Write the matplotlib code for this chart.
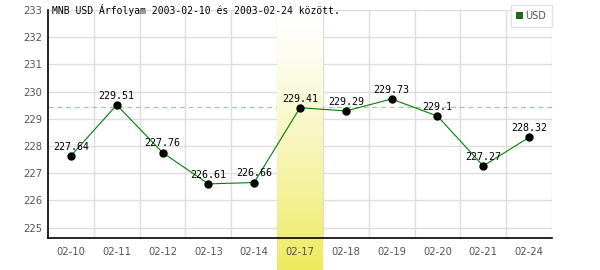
import numpy as np
import matplotlib.pyplot as plt
from matplotlib.lines import Line2D

# -----------------------------
# Adatok
# -----------------------------
dates = ["02-10", "02-11", "02-12", "02-13", "02-14", "02-17",
         "02-18", "02-19", "02-20", "02-21", "02-24"]
usd = [227.64, 229.51, 227.76, 226.61, 226.66, 229.41,
       229.29, 229.73, 229.1, 227.27, 228.32]
ref_level = 229.43
highlight_idx = 5
yticks = list(range(225, 234))
title = "MNB USD Árfolyam 2003-02-10 és 2003-02-24 között."

x = np.arange(len(dates))

fig = plt.figure(figsize=(6, 2.7), dpi=100)
ax = fig.add_axes([48/600, 1 - 238.3/270, 504/600, 228.3/270])
ax.set_xlim(-0.5, len(dates) - 0.5)
ax.set_ylim(224.61, 233)

# rács
for yv in yticks:
    ax.axhline(yv, color="#dddddd", lw=1, zorder=1)
for xv in np.arange(0.5, len(dates) + 0.5, 1):
    ax.axvline(xv, color="#dddddd", lw=1, zorder=1)

# referencia vonal
ax.axhline(ref_level, color="#9fcc9f", lw=0.9, ls=(0, (4, 3)), zorder=1.1)

# kiemelt nap – színátmenet
grad = np.linspace(0, 1, 256) ** 1.3
top = np.array([1.0, 1.0, 1.0])
bot = np.array([238, 234, 95]) / 255
img = top[None, None, :] + (bot - top)[None, None, :] * grad[:, None, None]
y_bottom = ax.transData.inverted().transform((0, 0))[1]
ax.imshow(img, extent=(highlight_idx - 0.5, highlight_idx + 0.5, y_bottom, 233),
          aspect="auto", origin="upper", zorder=1.2, clip_on=False,
          interpolation="bilinear")

# adatsor
ax.plot(x, usd, color="#008000", lw=0.8, zorder=2)
ax.plot(x, usd, "o", color="black", ms=5, zorder=3)
for xi, v in zip(x, usd):
    ax.annotate(f"{v:g}", (xi, v), xytext=(0, 3), textcoords="offset points",
                ha="center", va="bottom", fontsize=7.2, family="DejaVu Sans Mono",
                color="black", zorder=4)

ax.set_xticks(x)
ax.set_xticklabels(dates)
ax.set_yticks(yticks)
ax.tick_params(length=0, labelsize=7.2, labelcolor="#555555", pad=6)
ax.tick_params(axis="y", pad=4)
ax.set_facecolor("none")
for s in ["top", "right"]:
    ax.spines[s].set_visible(False)
for s in ["left", "bottom"]:
    ax.spines[s].set_linewidth(1.2)
    ax.spines[s].set_zorder(5)

fig.text(52/600, 1 - 10/270, title, fontsize=7, family="DejaVu Sans Mono",
         ha="left", va="center", color="black")

handle = Line2D([], [], ls="none", marker="s", ms=5, mfc="#008000", mec="#333333", mew=0.6)
leg = fig.legend([handle], ["USD"], loc="upper right",
                 bbox_to_anchor=(552/600, 1 - 5/270), fontsize=7,
                 frameon=True, fancybox=False, handlelength=0.6,
                 handletextpad=0.3, borderpad=0.6, borderaxespad=0)
leg.get_frame().set_edgecolor("#dddddd")
leg.get_frame().set_linewidth(1)
for t in leg.get_texts():
    t.set_color("#555555")

fig.savefig("out.png", dpi=100)
